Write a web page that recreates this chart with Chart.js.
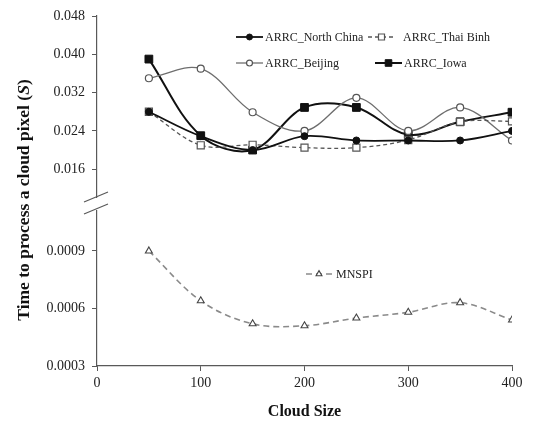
<!DOCTYPE html>
<html>
<head>
<meta charset="utf-8">
<script src="https://cdn.jsdelivr.net/npm/chart.js@4.4.1/dist/chart.umd.min.js"></script>
<style>
  html, body { margin: 0; padding: 0; background: #fff; }
  #wrap { width: 549px; height: 424px; }
</style>
</head>
<body>
<div id="wrap"><canvas id="chart" width="549" height="424"></canvas></div>
<script>
// values
const cloudSizes = [50, 100, 150, 200, 250, 300, 350, 400];
const northChina = [0.0280, 0.0229, 0.0200, 0.0229, 0.0220, 0.0220, 0.0220, 0.0240];
const thaiBinh   = [0.0280, 0.0210, 0.0211, 0.0205, 0.0205, 0.0221, 0.0259, 0.0260];
const beijing    = [0.0350, 0.0370, 0.0279, 0.0240, 0.0309, 0.0240, 0.0289, 0.0220];
const iowa       = [0.0390, 0.0230, 0.0200, 0.0289, 0.0289, 0.0232, 0.0259, 0.0279];
const mnspi      = [0.00090, 0.00064, 0.00052, 0.00051, 0.00055, 0.00058, 0.00063, 0.00054];
const topTicks = [0.016, 0.024, 0.032, 0.040, 0.048];
const bottomTicks = [0.0003, 0.0006, 0.0009];
const xTicks = [0, 100, 200, 300, 400];

const SERIF = "'Liberation Serif', 'Times New Roman', serif";
const AXIS = '#595959';

const pts = vals => vals.map((v, i) => ({ x: cloudSizes[i], y: v }));

const datasets = [
  { label: 'ARRC_North China', data: pts(northChina), yAxisID: 'yTop',
    borderColor: '#111', borderWidth: 1.8, pointStyle: 'circle', pointRadius: 3.5,
    pointBackgroundColor: '#111', pointBorderColor: '#111', pointBorderWidth: 1 },
  { label: 'ARRC_Thai Binh', data: pts(thaiBinh), yAxisID: 'yTop',
    borderColor: '#555', borderWidth: 1.3, borderDash: [4, 3], pointStyle: 'rect', pointRadius: 5,
    pointBackgroundColor: '#fff', pointBorderColor: '#555', pointBorderWidth: 1.2 },
  { label: 'ARRC_Beijing', data: pts(beijing), yAxisID: 'yTop',
    borderColor: '#6e6e6e', borderWidth: 1.3, pointStyle: 'circle', pointRadius: 3.5,
    pointBackgroundColor: '#fff', pointBorderColor: '#555', pointBorderWidth: 1.2 },
  { label: 'ARRC_Iowa', data: pts(iowa), yAxisID: 'yTop',
    borderColor: '#111', borderWidth: 2, pointStyle: 'rect', pointRadius: 5.5,
    pointBackgroundColor: '#111', pointBorderColor: '#111', pointBorderWidth: 1 },
  { label: 'MNSPI', data: pts(mnspi), yAxisID: 'yBot',
    borderColor: '#8a8a8a', borderWidth: 1.6, borderDash: [6, 4], pointStyle: 'triangle', pointRadius: 4,
    pointBackgroundColor: '#fff', pointBorderColor: '#444', pointBorderWidth: 1.1 }
];

// legend entries: dataset index, line start/end, text x, y
const legendSpots = [
  [0, 236, 263, 265, 37],
  [1, 368, 395, 403, 37],
  [2, 236, 263, 265, 63],
  [3, 375, 402, 404, 63],
  [4, 306, 332, 336, 274]
];

const extras = {
  id: 'extras',
  afterDraw(chart) {
    const ctx = chart.ctx;
    const x0 = chart.scales.x.left;
    // axis break
    ctx.save();
    ctx.fillStyle = '#fff';
    ctx.fillRect(x0 - 3, 198, 6, 12);
    ctx.strokeStyle = AXIS;
    ctx.lineWidth = 1.2;
    ctx.beginPath();
    ctx.moveTo(x0 - 13, 202); ctx.lineTo(x0 + 11, 192);
    ctx.moveTo(x0 - 13, 214); ctx.lineTo(x0 + 11, 204);
    ctx.stroke();
    ctx.restore();

    // legends
    legendSpots.forEach(([di, a, b, tx, y]) => {
      const ds = chart.data.datasets[di];
      ctx.save();
      ctx.strokeStyle = ds.borderColor;
      ctx.lineWidth = ds.borderWidth;
      ctx.setLineDash(ds.borderDash || []);
      ctx.beginPath();
      ctx.moveTo(a, y); ctx.lineTo(b, y);
      ctx.stroke();
      ctx.setLineDash([]);
      ctx.fillStyle = ds.pointBackgroundColor;
      ctx.strokeStyle = ds.pointBorderColor;
      ctx.lineWidth = ds.pointBorderWidth;
      Chart.helpers.drawPoint(ctx, { pointStyle: ds.pointStyle, radius: ds.pointRadius * 0.85, rotation: 0, borderWidth: ds.pointBorderWidth }, (a + b) / 2, y);
      ctx.fillStyle = '#222';
      ctx.font = '12px ' + SERIF;
      ctx.textBaseline = 'middle';
      ctx.textAlign = 'left';
      ctx.fillText(ds.label, tx, y + 1);
      ctx.restore();
    });

    // y axis title with italic S
    const parts = [
      ['bold 17.5px ' + SERIF, 'Time to process a cloud pixel ('],
      ['italic bold 17.5px ' + SERIF, 'S'],
      ['bold 17.5px ' + SERIF, ')']
    ];
    ctx.save();
    ctx.translate(24, 200);
    ctx.rotate(-Math.PI / 2);
    ctx.fillStyle = '#111';
    ctx.textBaseline = 'middle';
    ctx.textAlign = 'left';
    let total = 0;
    parts.forEach(([f, t]) => { ctx.font = f; total += ctx.measureText(t).width; });
    let cx = -total / 2;
    parts.forEach(([f, t]) => { ctx.font = f; ctx.fillText(t, cx, 0); cx += ctx.measureText(t).width; });
    ctx.restore();
  }
};

const tickFont = { family: SERIF, size: 14 };

new Chart(document.getElementById('chart'), {
  type: 'line',
  data: { datasets },
  options: {
    responsive: false,
    animation: false,
    layout: { padding: { top: 16, right: 37, left: 0, bottom: 0 } },
    elements: { line: { tension: 0.35 } },
    plugins: { legend: { display: false }, tooltip: { enabled: false } },
    scales: {
      x: {
        type: 'linear', min: 0, max: 400,
        afterBuildTicks: s => { s.ticks = xTicks.map(v => ({ value: v })); },
        afterFit: s => { s.height = 58; },
        ticks: { font: tickFont, color: '#222', padding: 4, maxRotation: 0 },
        grid: { drawOnChartArea: false, drawTicks: true, tickLength: 5, color: AXIS },
        border: { color: AXIS, width: 1.2 },
        title: { display: true, text: 'Cloud Size', color: '#111',
          font: { family: SERIF, size: 16, weight: 'bold' }, padding: { top: 4, bottom: 3 } }
      },
      yBot: {
        type: 'linear', position: 'left', stack: 'y', stackWeight: 163, weight: 0,
        min: 0.0003, max: 0.00115,
        afterBuildTicks: s => { s.ticks = bottomTicks.map(v => ({ value: v })); },
        afterFit: s => { s.width = 97; },
        ticks: { font: tickFont, color: '#222', padding: 7, callback: v => v.toFixed(4) },
        grid: { drawOnChartArea: false, drawTicks: true, tickLength: 5, color: AXIS },
        border: { color: AXIS, width: 1.2 }
      },
      yTop: {
        type: 'linear', position: 'left', stack: 'y', stackWeight: 187, weight: 1,
        min: 0.00894, max: 0.048,
        afterBuildTicks: s => { s.ticks = topTicks.map(v => ({ value: v })); },
        afterFit: s => { s.width = 97; },
        ticks: { font: tickFont, color: '#222', padding: 7, callback: v => v.toFixed(3) },
        grid: { drawOnChartArea: false, drawTicks: true, tickLength: 5, color: AXIS },
        border: { color: AXIS, width: 1.2 }
      }
    }
  },
  plugins: [extras]
});
</script>
</body>
</html>
